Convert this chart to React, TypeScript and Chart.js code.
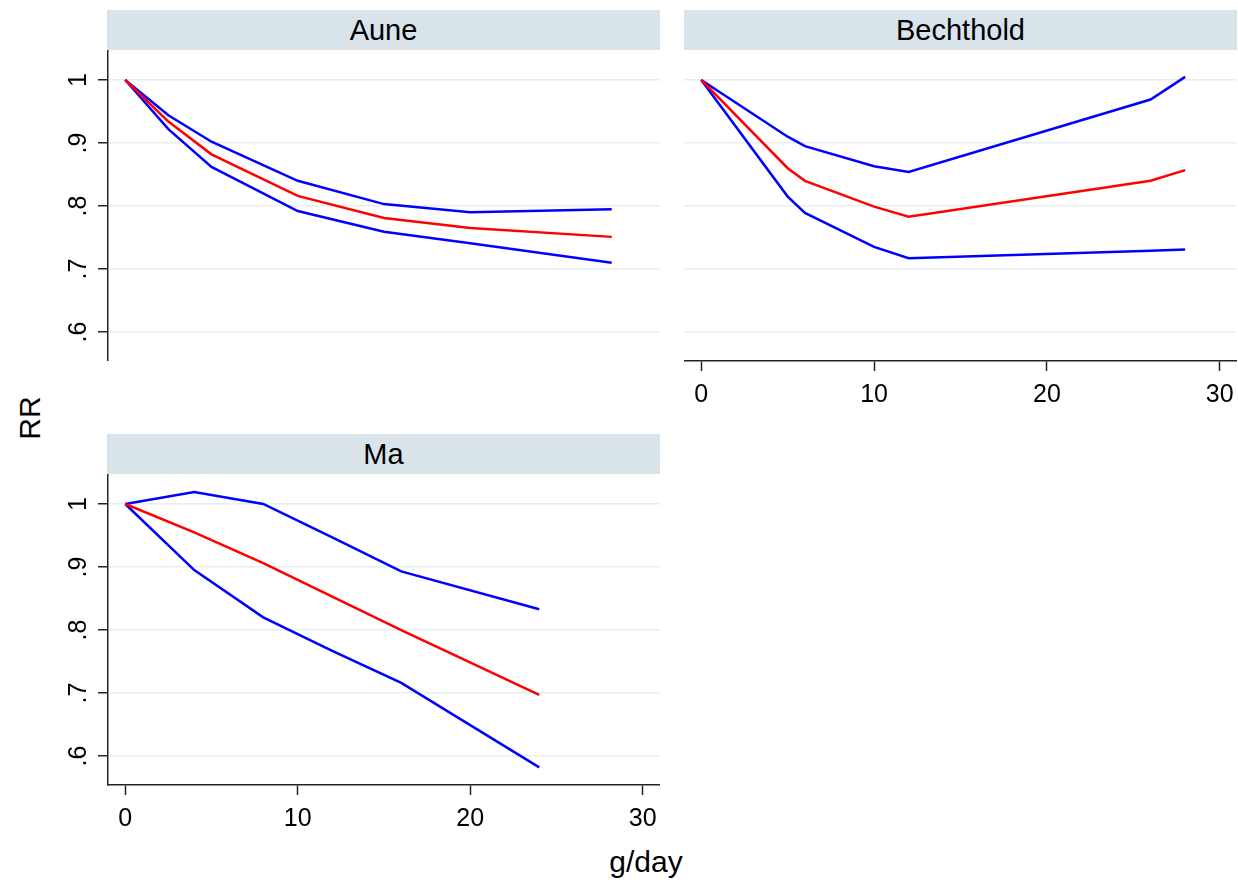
import React, { useEffect, useRef } from "react";
import { Chart, registerables } from "chart.js";

Chart.register(...registerables);

const FONT = '"Liberation Sans", Arial, Helvetica, sans-serif';

// Shared axis ticks
const xTickValues = [0, 10, 20, 30];
const yTickValues = [0.6, 0.7, 0.8, 0.9, 1];
const yTickLabels = [".6", ".7", ".8", ".9", "1"];

// Aune: dose (g/day), pooled RR with lower / upper 95% CI
const auneDose = [0, 2.5, 5, 10, 15, 20, 28.2];
const auneRR = [1, 0.934, 0.882, 0.816, 0.781, 0.765, 0.751];
const auneLower = [1, 0.922, 0.862, 0.792, 0.759, 0.741, 0.71];
const auneUpper = [1, 0.944, 0.902, 0.84, 0.803, 0.79, 0.795];

// Bechthold
const bechtholdDose = [0, 5, 6, 10, 12, 26, 28];
const bechtholdRR = [1, 0.86, 0.84, 0.799, 0.783, 0.84, 0.857];
const bechtholdLower = [1, 0.815, 0.789, 0.735, 0.717, 0.729, 0.731];
const bechtholdUpper = [1, 0.91, 0.895, 0.863, 0.854, 0.969, 1.005];

// Ma
const maDose = [0, 4, 8, 12, 16, 24];
const maRR = [1, 0.955, 0.906, 0.853, 0.8, 0.697];
const maLower = [1, 0.895, 0.82, 0.767, 0.716, 0.582];
const maUpper = [1, 1.019, 1.0, 0.947, 0.893, 0.833];

const X_MIN = -1;
const X_MAX = 31;
const Y_MIN = 0.554;
const Y_MAX = 1.0476;

const AXIS_COLOR = "#222222";
const GRID_COLOR = "#e6eef1";
const STRIP_COLOR = "#d9e3ea";

// Stata-style y labels, rotated to read bottom-to-top
const rotatedYLabels = {
  id: "rotatedYLabels",
  afterDraw(chart: any) {
    const s = chart.scales.y;
    const ctx = chart.ctx;
    ctx.save();
    ctx.fillStyle = "#000";
    ctx.font = `25px ${FONT}`;
    ctx.textAlign = "center";
    ctx.textBaseline = "alphabetic";
    yTickValues.forEach((v, i) => {
      const y = s.getPixelForValue(v);
      ctx.save();
      ctx.translate(s.right - 22, y);
      ctx.rotate(-Math.PI / 2);
      ctx.fillText(yTickLabels[i], 0, 0);
      ctx.restore();
    });
    ctx.restore();
  },
};

type PanelProps = {
  dose: number[];
  rr: number[];
  lower: number[];
  upper: number[];
  showY: boolean;
  showX: boolean;
  left: number;
  top: number;
  width: number;
  height: number;
};

function RRPanel(p: PanelProps) {
  const ref = useRef<HTMLCanvasElement | null>(null);

  useEffect(() => {
    if (!ref.current) return;
    const pts = (ys: number[]) => p.dose.map((d, i) => ({ x: d, y: ys[i] }));
    const line = (ys: number[], color: string) => ({
      data: pts(ys),
      borderColor: color,
      backgroundColor: color,
      borderWidth: 2.5,
      pointRadius: 0,
      tension: 0,
      fill: false,
    });
    const chart = new Chart(ref.current, {
      type: "line",
      data: {
        datasets: [
          line(p.rr, "#ff0000"),
          line(p.lower, "#0000ff"),
          line(p.upper, "#0000ff"),
        ],
      },
      options: {
        animation: false,
        responsive: false,
        maintainAspectRatio: false,
        devicePixelRatio: 1,
        layout: { padding: 0 },
        plugins: {
          legend: { display: false },
          tooltip: { enabled: false },
          title: { display: false },
        },
        scales: {
          x: {
            type: "linear",
            min: X_MIN,
            max: X_MAX,
            display: p.showX,
            afterBuildTicks: (s: any) => {
              s.ticks = xTickValues.map((v) => ({ value: v }));
            },
            afterFit: (s: any) => {
              s.height = p.showX ? 59 : 0;
              s.paddingLeft = 0;
              s.paddingRight = 0;
            },
            grid: {
              display: true,
              drawOnChartArea: false,
              drawTicks: true,
              tickLength: 10,
              tickColor: AXIS_COLOR,
              tickWidth: 1.5,
            },
            border: { display: true, color: AXIS_COLOR, width: 1.5 },
            ticks: {
              color: "#000",
              font: { family: FONT, size: 25 },
              padding: 9,
              maxRotation: 0,
              minRotation: 0,
              autoSkip: false,
              callback: (v: any) => String(v),
            },
          },
          y: {
            type: "linear",
            min: Y_MIN,
            max: Y_MAX,
            afterBuildTicks: (s: any) => {
              s.ticks = yTickValues.map((v) => ({ value: v }));
            },
            afterFit: (s: any) => {
              s.width = p.showY ? 108 : 0;
            },
            grid: {
              color: GRID_COLOR,
              lineWidth: 1.5,
              drawTicks: p.showY,
              tickLength: 10,
              tickColor: AXIS_COLOR,
              tickWidth: 1.5,
            },
            border: { display: p.showY, color: AXIS_COLOR, width: 1.5 },
            ticks: { display: false },
          },
        },
      },
      plugins: p.showY ? [rotatedYLabels] : [],
    } as any);
    return () => chart.destroy();
  }, []);

  return (
    <canvas
      ref={ref}
      width={p.width}
      height={p.height}
      style={{
        position: "absolute",
        left: p.left,
        top: p.top,
        width: p.width,
        height: p.height,
        display: "block",
      }}
    />
  );
}

function Strip({ left, top, label }: { left: number; top: number; label: string }) {
  return (
    <div
      style={{
        position: "absolute",
        left,
        top,
        width: 553,
        height: 40,
        background: STRIP_COLOR,
        color: "#000",
        fontFamily: FONT,
        fontSize: 29,
        lineHeight: "40px",
        textAlign: "center",
      }}
    >
      {label}
    </div>
  );
}

export default function App() {
  return (
    <div
      style={{
        position: "absolute",
        left: 0,
        top: 0,
        width: 1238,
        height: 883,
        background: "#ffffff",
        overflow: "hidden",
      }}
    >
      <Strip left={107} top={10} label="Aune" />
      <Strip left={684} top={10} label="Bechthold" />
      <Strip left={107} top={434} label="Ma" />

      <RRPanel
        dose={auneDose}
        rr={auneRR}
        lower={auneLower}
        upper={auneUpper}
        showY={true}
        showX={false}
        left={0}
        top={50}
        width={660}
        height={311}
      />
      <RRPanel
        dose={bechtholdDose}
        rr={bechtholdRR}
        lower={bechtholdLower}
        upper={bechtholdUpper}
        showY={false}
        showX={true}
        left={684}
        top={50}
        width={553}
        height={370}
      />
      <RRPanel
        dose={maDose}
        rr={maRR}
        lower={maLower}
        upper={maUpper}
        showY={true}
        showX={true}
        left={0}
        top={474}
        width={660}
        height={370}
      />

      <div
        style={{
          position: "absolute",
          left: 30 - 40,
          top: 418 - 18,
          width: 80,
          height: 36,
          transform: "rotate(-90deg)",
          fontFamily: FONT,
          fontSize: 30,
          lineHeight: "36px",
          textAlign: "center",
          color: "#000",
        }}
      >
        RR
      </div>
      <div
        style={{
          position: "absolute",
          left: 646 - 60,
          top: 862 - 18,
          width: 120,
          height: 36,
          fontFamily: FONT,
          fontSize: 30,
          lineHeight: "36px",
          textAlign: "center",
          color: "#000",
        }}
      >
        g/day
      </div>
    </div>
  );
}
